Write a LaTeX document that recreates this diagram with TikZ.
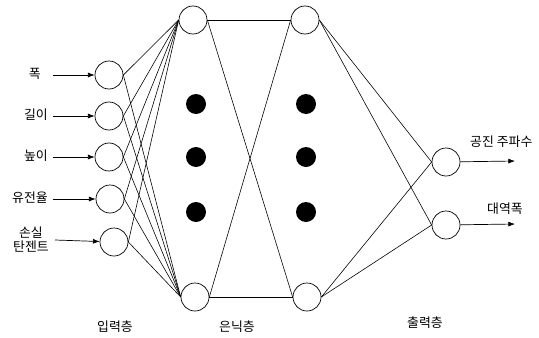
\documentclass[tikz,border=0pt]{standalone}
\usepackage{fontspec}
\newfontfamily\krfont{Noto Sans CJK KR}
\usetikzlibrary{arrows.meta,positioning}

\begin{document}
\begin{tikzpicture}[
      x=0.03cm,y=-0.03cm,
      neuron/.style={
        circle,
        draw=black,
        line width=0.6pt,
        minimum size=0.84cm,
        inner sep=0pt
      },
      blob/.style={circle,fill=black,minimum size=0.6cm,inner sep=0pt},
      lbl/.style={font=\krfont\fontsize{11pt}{12pt}\selectfont,inner sep=0pt,align=center},
      link/.style={line width=0.5pt},
      arrow/.style={-{Latex[length=2mm,width=1.5mm]},line width=0.6pt}
    ]
      \useasboundingbox (0,0) rectangle (539,337);
      % input layer
      \node[neuron] (in1) at (109,75) {};
      \node[neuron] (in2) at (109,116) {};
      \node[neuron] (in3) at (109,157) {};
      \node[neuron] (in4) at (110,199) {};
      \node[neuron] (in5) at (114,242) {};
      % hidden layers
      \node[neuron] (ha) at (193,20) {};
      \node[neuron] (hb) at (195,297) {};
      \node[neuron] (ga) at (305,20) {};
      \node[neuron] (gb) at (307,297) {};
      \node[blob] (d1) at (196,104) {};
      \node[blob] (d2) at (196,157) {};
      \node[blob] (d3) at (196,212) {};
      \node[blob] (e1) at (306,104) {};
      \node[blob] (e2) at (306,157) {};
      \node[blob] (e3) at (306,212) {};
      % output layer
      \node[neuron] (out1) at (446,162) {};
      \node[neuron] (out2) at (446,225) {};
      % input labels and arrows
      \coordinate (s1) at (53,75);
      \coordinate (s2) at (53,116);
      \coordinate (s3) at (53,157);
      \coordinate (s4) at (53,199);
      \coordinate (s5) at (55,240);
      \node[lbl,anchor=east] (t1) at (41,74) {폭};
      \node[lbl,anchor=east] (t2) at (48,115) {길이};
      \node[lbl,anchor=east] (t3) at (48,156) {높이};
      \node[lbl,anchor=east] (t4) at (48,198) {유전율};
      \node[lbl,anchor=east] (t5) at (49,240) {손실\\탄젠트};
      \draw[arrow] (s1) -- (in1);
      \draw[arrow] (s2) -- (in2);
      \draw[arrow] (s3) -- (in3);
      \draw[arrow] (s4) -- (in4);
      \draw[arrow] (s5) -- (in5);
      % input to hidden
      \foreach \i in {in1,in2,in3,in4,in5}{
        \draw[link] (\i.east) -- (ha.west);
        \draw[link] (\i.east) -- (hb.west);
      }
      % hidden to hidden
      \draw[link] (ha.east) -- (ga.west);
      \draw[link] (ha.east) -- (gb.west);
      \draw[link] (hb.east) -- (ga.west);
      \draw[link] (hb.east) -- (gb.west);
      % hidden to output
      \draw[link] (ga.east) -- (out1.west);
      \draw[link] (ga.east) -- (out2.west);
      \draw[link] (gb.east) -- (out1.west);
      \draw[link] (gb.east) -- (out2.west);
      % outputs
      \coordinate (r1) at (515,161);
      \coordinate (r2) at (515,224);
      \draw[arrow] (out1) -- (r1);
      \draw[arrow] (out2) -- (r2);
      \node[lbl,anchor=west] (u1) at (470,142) {공진 주파수};
      \node[lbl,anchor=west] (u2) at (487,209) {대역폭};
      % layer names
      \node[lbl] (lin) at (115,327) {입력층};
      \node[lbl] (lhid) at (237,327) {은닉층};
      \node[lbl] (lout) at (425,323) {출력층};
    \end{tikzpicture}
\end{document}
